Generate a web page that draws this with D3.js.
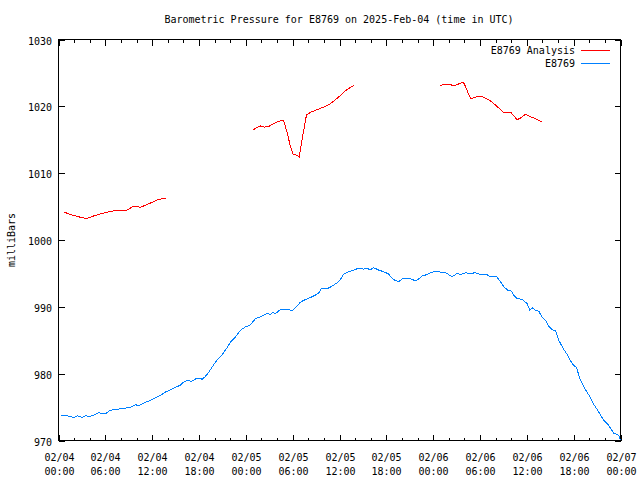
<!DOCTYPE html>
<html>
<head>
<meta charset="utf-8">
<script src="https://cdn.jsdelivr.net/npm/d3@7"></script>
<style>
body{margin:0;background:#fff;}
svg text{font-family:"DejaVu Sans Mono",monospace;font-size:10px;fill:#000;}
</style>
</head>
<body>
<svg id="chart" width="640" height="480"></svg>
<script>
// hours since 2025-02-04 00:00 UTC, pressure in millibars
const analysisSeg1T = [0.77,1.41,2.18,2.82,3.46,3.88,4.52,5.38,6.24,7.3,8.71,9.65,10.5,11.36,12.64,13.7];
const analysisSeg1P = [1004.16,1003.86,1003.6,1003.4,1003.26,1003.3,1003.6,1003.9,1004.16,1004.4,1004.46,1005.06,1004.9,1005.3,1006.0,1006.26];
const analysisSeg2T = [24.89,25.46,25.88,26.39,26.94,27.58,28.22,28.73,28.86,29.3,29.72,30.02,30.45,30.84,31.0,31.35,31.77,32.28,33.14,33.99,34.85,35.49,36.13,36.98,37.83];
const analysisSeg2P = [1016.46,1016.85,1017.06,1016.9,1017.0,1017.45,1017.75,1017.96,1017.85,1016.0,1014.0,1012.9,1012.7,1012.45,1013.5,1016.0,1018.7,1019.1,1019.5,1019.9,1020.4,1021.0,1021.65,1022.55,1023.1];
const analysisSeg3T = [48.85,49.36,49.79,50.31,50.77,51.28,51.84,52.14,52.43,52.87,53.33,53.84,54.48,55.12,55.77,56.41,56.97,57.9,58.33,58.76,59.18,59.82,60.46,61.23,61.96];
const analysisSeg3P = [1023.1,1023.25,1023.35,1023.2,1023.1,1023.35,1023.65,1023.0,1022.1,1021.1,1021.35,1021.55,1021.35,1021.0,1020.4,1019.75,1019.15,1019.15,1018.6,1018.0,1018.25,1018.8,1018.45,1018.1,1017.65];

const stationT = [0.26,1.11,1.96,2.40,3.04,3.46,4.01,4.52,5.16,5.60,6.02,6.66,7.30,7.73,8.16,9.22,9.86,10.29,11.15,11.79,12.43,13.07,13.71,14.35,14.99,15.63,16.05,16.56,17.0,17.55,18.10,18.41,18.83,19.26,19.69,20.33,20.97,21.61,22.04,22.68,23.32,23.96,24.51,25.24,25.88,26.74,27.16,27.38,27.80,28.44,29.50,29.94,30.36,31.0,31.64,32.28,32.92,33.35,33.65,34.42,35.06,35.70,36.13,36.55,37.19,37.83,38.47,39.11,39.62,39.88,40.39,41.03,41.67,42.31,42.75,43.05,43.60,44.03,45.10,45.52,45.95,46.59,47.24,47.88,48.52,49.58,50.0,50.44,51.08,51.50,52.14,52.78,53.42,54.06,54.92,55.34,56.11,56.62,57.05,57.56,58.0,58.33,58.76,59.40,60.04,60.38,60.69,61.11,61.53,61.97,62.39,62.81,63.25,63.67,64.09,64.66,65.17,65.81,66.36,66.87,67.51,68.06,68.58,69.22,69.86,70.50,71.14,71.78,72.0];
const stationP = [973.71,973.71,973.45,973.71,973.45,973.71,973.6,973.8,974.16,974.0,974.0,974.55,974.6,974.7,974.8,974.95,975.36,975.2,975.75,976.0,976.4,976.75,977.25,977.6,977.95,978.3,978.75,979.0,978.85,979.2,979.35,979.15,979.6,980.25,981.0,982.1,982.85,983.9,984.75,985.5,986.5,987.0,987.2,988.25,988.5,989.0,988.85,989.15,989.0,989.6,989.6,989.4,989.9,990.7,991.1,991.4,991.75,992.1,992.7,992.7,993.1,993.6,994.1,994.9,995.25,995.5,995.8,995.65,995.8,995.5,995.85,995.5,995.25,994.9,994.25,994.0,993.75,994.2,994.2,994.0,994.0,994.6,994.85,995.2,995.25,995.15,994.8,994.5,995.0,994.85,995.1,995.0,995.1,994.85,994.8,994.5,994.55,993.75,993.0,992.5,992.35,991.75,991.25,991.1,990.5,989.5,989.85,989.5,989.35,988.4,988.0,987.1,986.6,986.4,985.0,983.75,982.85,981.5,980.9,979.0,977.6,976.6,975.4,974.25,973.0,972.25,971.1,970.75,970.1];

const yTicks = [970,980,990,1000,1010,1020,1030];
const xTickHours = [0,6,12,18,24,30,36,42,48,54,60,66,72];
const xTickLabels = ["02/04\n00:00","02/04\n06:00","02/04\n12:00","02/04\n18:00","02/05\n00:00","02/05\n06:00","02/05\n12:00","02/05\n18:00","02/06\n00:00","02/06\n06:00","02/06\n12:00","02/06\n18:00","02/07\n00:00"];
const seriesNames = ["E8769 Analysis","E8769"];
const seriesColors = ["#ff0000","#0080ff"];
const titleText = "Barometric Pressure for E8769 on 2025-Feb-04 (time in UTC)";
const yLabel = "milliBars";

const L = 58.5, R = 620.5, T = 39.5, B = 440.5;
const svg = d3.select("#chart");
const x = d3.scaleLinear().domain([0,72]).range([L,R]);
const y = d3.scaleLinear().domain([970,1030]).range([B,T]);

svg.append("text").attr("x",339).attr("y",23).attr("text-anchor","middle").text(titleText);
svg.append("text").attr("transform","translate(15,240) rotate(-90)").attr("text-anchor","middle").text(yLabel);

const g = svg.append("g").attr("shape-rendering","crispEdges");
const minor = d3.range(0,73,2).filter(h => h % 6 !== 0);
minor.forEach(h => {
  const px = Math.round(x(h)) + 0.5;
  g.append("line").attr("x1",px).attr("x2",px).attr("y1",B).attr("y2",B-3).attr("stroke","#000");
  g.append("line").attr("x1",px).attr("x2",px).attr("y1",T).attr("y2",T+3).attr("stroke","#000");
});
xTickHours.forEach((h,i) => {
  const px = Math.round(x(h)) + 0.5;
  g.append("line").attr("x1",px).attr("x2",px).attr("y1",B).attr("y2",B-6).attr("stroke","#000");
  g.append("line").attr("x1",px).attr("x2",px).attr("y1",T).attr("y2",T+6).attr("stroke","#000");
  const lines = xTickLabels[i].split("\n");
  const t = svg.append("text").attr("text-anchor","middle");
  t.append("tspan").attr("x",px).attr("y",461).text(lines[0]);
  t.append("tspan").attr("x",px).attr("y",475).text(lines[1]);
});
yTicks.forEach(v => {
  const py = Math.round(y(v)) + 0.5;
  g.append("line").attr("x1",L).attr("x2",L+6).attr("y1",py).attr("y2",py).attr("stroke","#000");
  g.append("line").attr("x1",R).attr("x2",R-6).attr("y1",py).attr("y2",py).attr("stroke","#000");
  svg.append("text").attr("x",52).attr("y",py+4).attr("text-anchor","end").text(v);
});

g.append("rect").attr("x",L).attr("y",T).attr("width",R-L).attr("height",B-T)
  .attr("fill","none").attr("stroke","#000");

const line = d3.line().x(d => x(d[0])).y(d => y(d[1]));
const zip = (a,b) => a.map((v,i) => [v,b[i]]);
[[analysisSeg1T,analysisSeg1P],[analysisSeg2T,analysisSeg2P],[analysisSeg3T,analysisSeg3P]].forEach(s => {
  svg.append("path").attr("d",line(zip(s[0],s[1]))).attr("fill","none").attr("stroke",seriesColors[0])
    .attr("stroke-width",1).attr("shape-rendering","crispEdges");
});
svg.append("path").attr("d",line(zip(stationT,stationP))).attr("fill","none").attr("stroke",seriesColors[1])
  .attr("stroke-width",1).attr("shape-rendering","crispEdges");

seriesNames.forEach((n,i) => {
  const ly = 50 + i*13;
  svg.append("text").attr("x",575).attr("y",ly+4).attr("text-anchor","end").text(n);
  g.append("line").attr("x1",581).attr("x2",610).attr("y1",ly+0.5).attr("y2",ly+0.5).attr("stroke",seriesColors[i]);
});
</script>
</body>
</html>
